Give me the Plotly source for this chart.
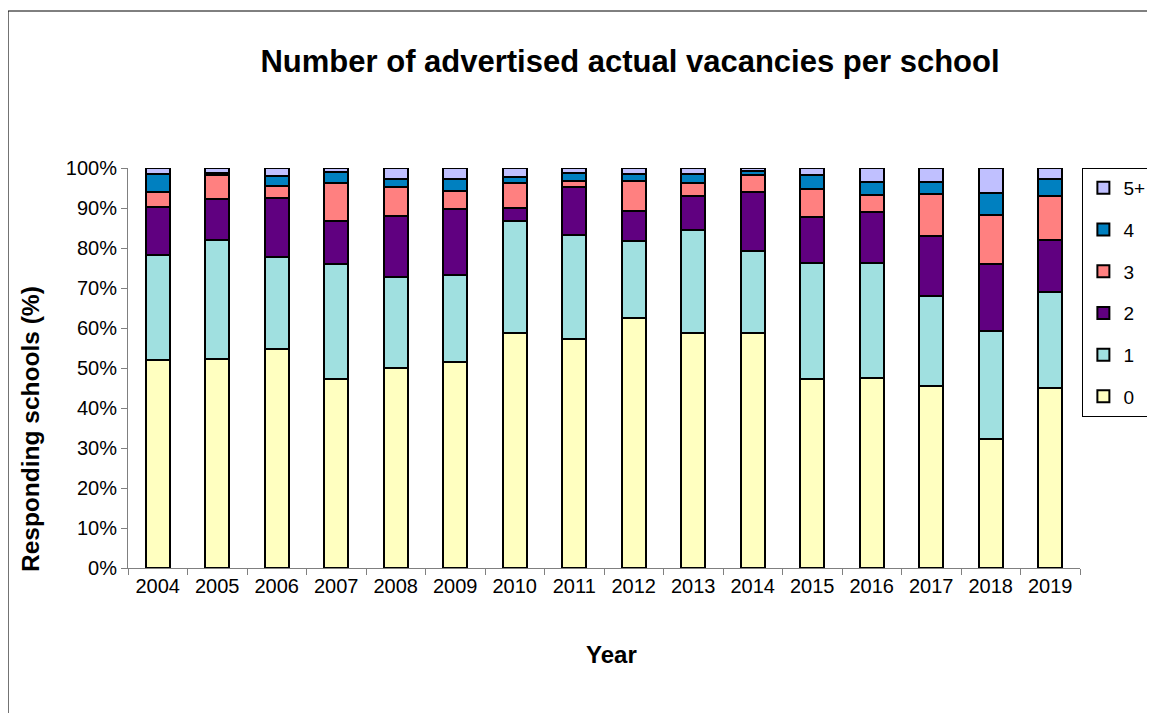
import plotly.graph_objects as go

years = [str(y) for y in range(2004, 2020)]

# share of responding schools (%) by number of advertised vacancies
v0 = [52.0, 52.2, 54.8, 47.2, 49.9, 51.5, 58.8, 57.3, 62.4, 58.7, 58.8, 47.2, 47.6, 45.6, 32.2, 45.1]
v1 = [26.3, 29.8, 22.9, 28.7, 22.9, 21.7, 28.0, 25.9, 19.4, 25.8, 20.5, 29.0, 28.6, 22.4, 27.0, 23.8]
v2 = [12.0, 10.2, 14.7, 10.9, 15.2, 16.5, 3.3, 12.1, 7.5, 8.5, 14.6, 11.6, 12.7, 14.9, 16.8, 13.1]
v3 = [3.8, 6.1, 3.1, 9.4, 7.3, 4.6, 6.2, 1.5, 7.5, 3.3, 4.4, 6.9, 4.4, 10.6, 12.2, 11.0]
v4 = [4.4, 0.4, 2.6, 2.8, 2.0, 2.9, 1.4, 1.9, 1.7, 2.2, 1.0, 3.6, 3.2, 2.9, 5.6, 4.2]
v5 = [1.5, 1.3, 1.9, 1.0, 2.7, 2.8, 2.3, 1.3, 1.5, 1.5, 0.7, 1.7, 3.5, 3.6, 6.2, 2.8]

series = [
    ('0', v0, '#FFFFC0'),
    ('1', v1, '#A0E0E0'),
    ('2', v2, '#600080'),
    ('3', v3, '#FF8080'),
    ('4', v4, '#0080C0'),
    ('5+', v5, '#C0C0FF'),
]

fig = go.Figure()
for i, (name, vals, col) in enumerate(series):
    fig.add_trace(go.Bar(
        x=years, y=vals, name=name, legendgroup=name,
        legendrank=100 - i,  # 5+ on top of the legend
        marker=dict(color=col, line=dict(color='black', width=2)),
        width=0.4,
    ))

# page body has an 8px margin, so the figure is a bit smaller than the window
fig.update_layout(
    barmode='stack',
    barnorm='percent',
    width=1147, height=705,
    margin=dict(l=120, r=75, t=160, b=145, autoexpand=False),
    paper_bgcolor='white',
    plot_bgcolor='white',
    font=dict(family='Arial, Liberation Sans', size=20, color='black'),
    title=dict(text='<b>Number of advertised actual vacancies per school</b>',
               x=0.5423, xanchor='center', y=0.925, yanchor='middle',
               font=dict(size=31)),
    legend=dict(x=1.0025, xanchor='left', y=1.0, yanchor='top',
                traceorder='grouped', tracegroupgap=14,
                bordercolor='black', borderwidth=1,
                itemwidth=30,
                font=dict(size=19)),
    showlegend=True,
)

fig.update_xaxes(
    showline=True, linecolor='#808080', linewidth=1,
    ticks='outside', tickson='boundaries', ticklen=6, tickcolor='#808080',
    tickfont=dict(size=20),
)
fig.update_yaxes(
    range=[0, 100], dtick=10, ticksuffix='%',
    showline=True, linecolor='#808080', linewidth=1,
    ticks='outside', ticklen=6, tickcolor='#808080',
    showgrid=False, zeroline=False,
    tickfont=dict(size=20),
)

fig.add_annotation(text='<b>Responding schools (%)</b>', xref='paper', yref='paper',
                   x=-0.1029, y=0.3475, textangle=-90, showarrow=False,
                   font=dict(size=24.5), xanchor='center', yanchor='middle')
fig.add_annotation(text='<b>Year</b>', xref='paper', yref='paper',
                   x=0.508, y=-0.215, showarrow=False,
                   font=dict(size=24), xanchor='center', yanchor='middle')

# chart frame (top and left edges visible)
fig.add_shape(type='line', xref='paper', yref='paper',
              x0=-0.126, x1=1.1, y0=1.3925, y1=1.3925,
              line=dict(color='black', width=1))
fig.add_shape(type='line', xref='paper', yref='paper',
              x0=-0.126, x1=-0.126, y0=1.3925, y1=-0.4,
              line=dict(color='black', width=1))

fig.write_html('out.html')
